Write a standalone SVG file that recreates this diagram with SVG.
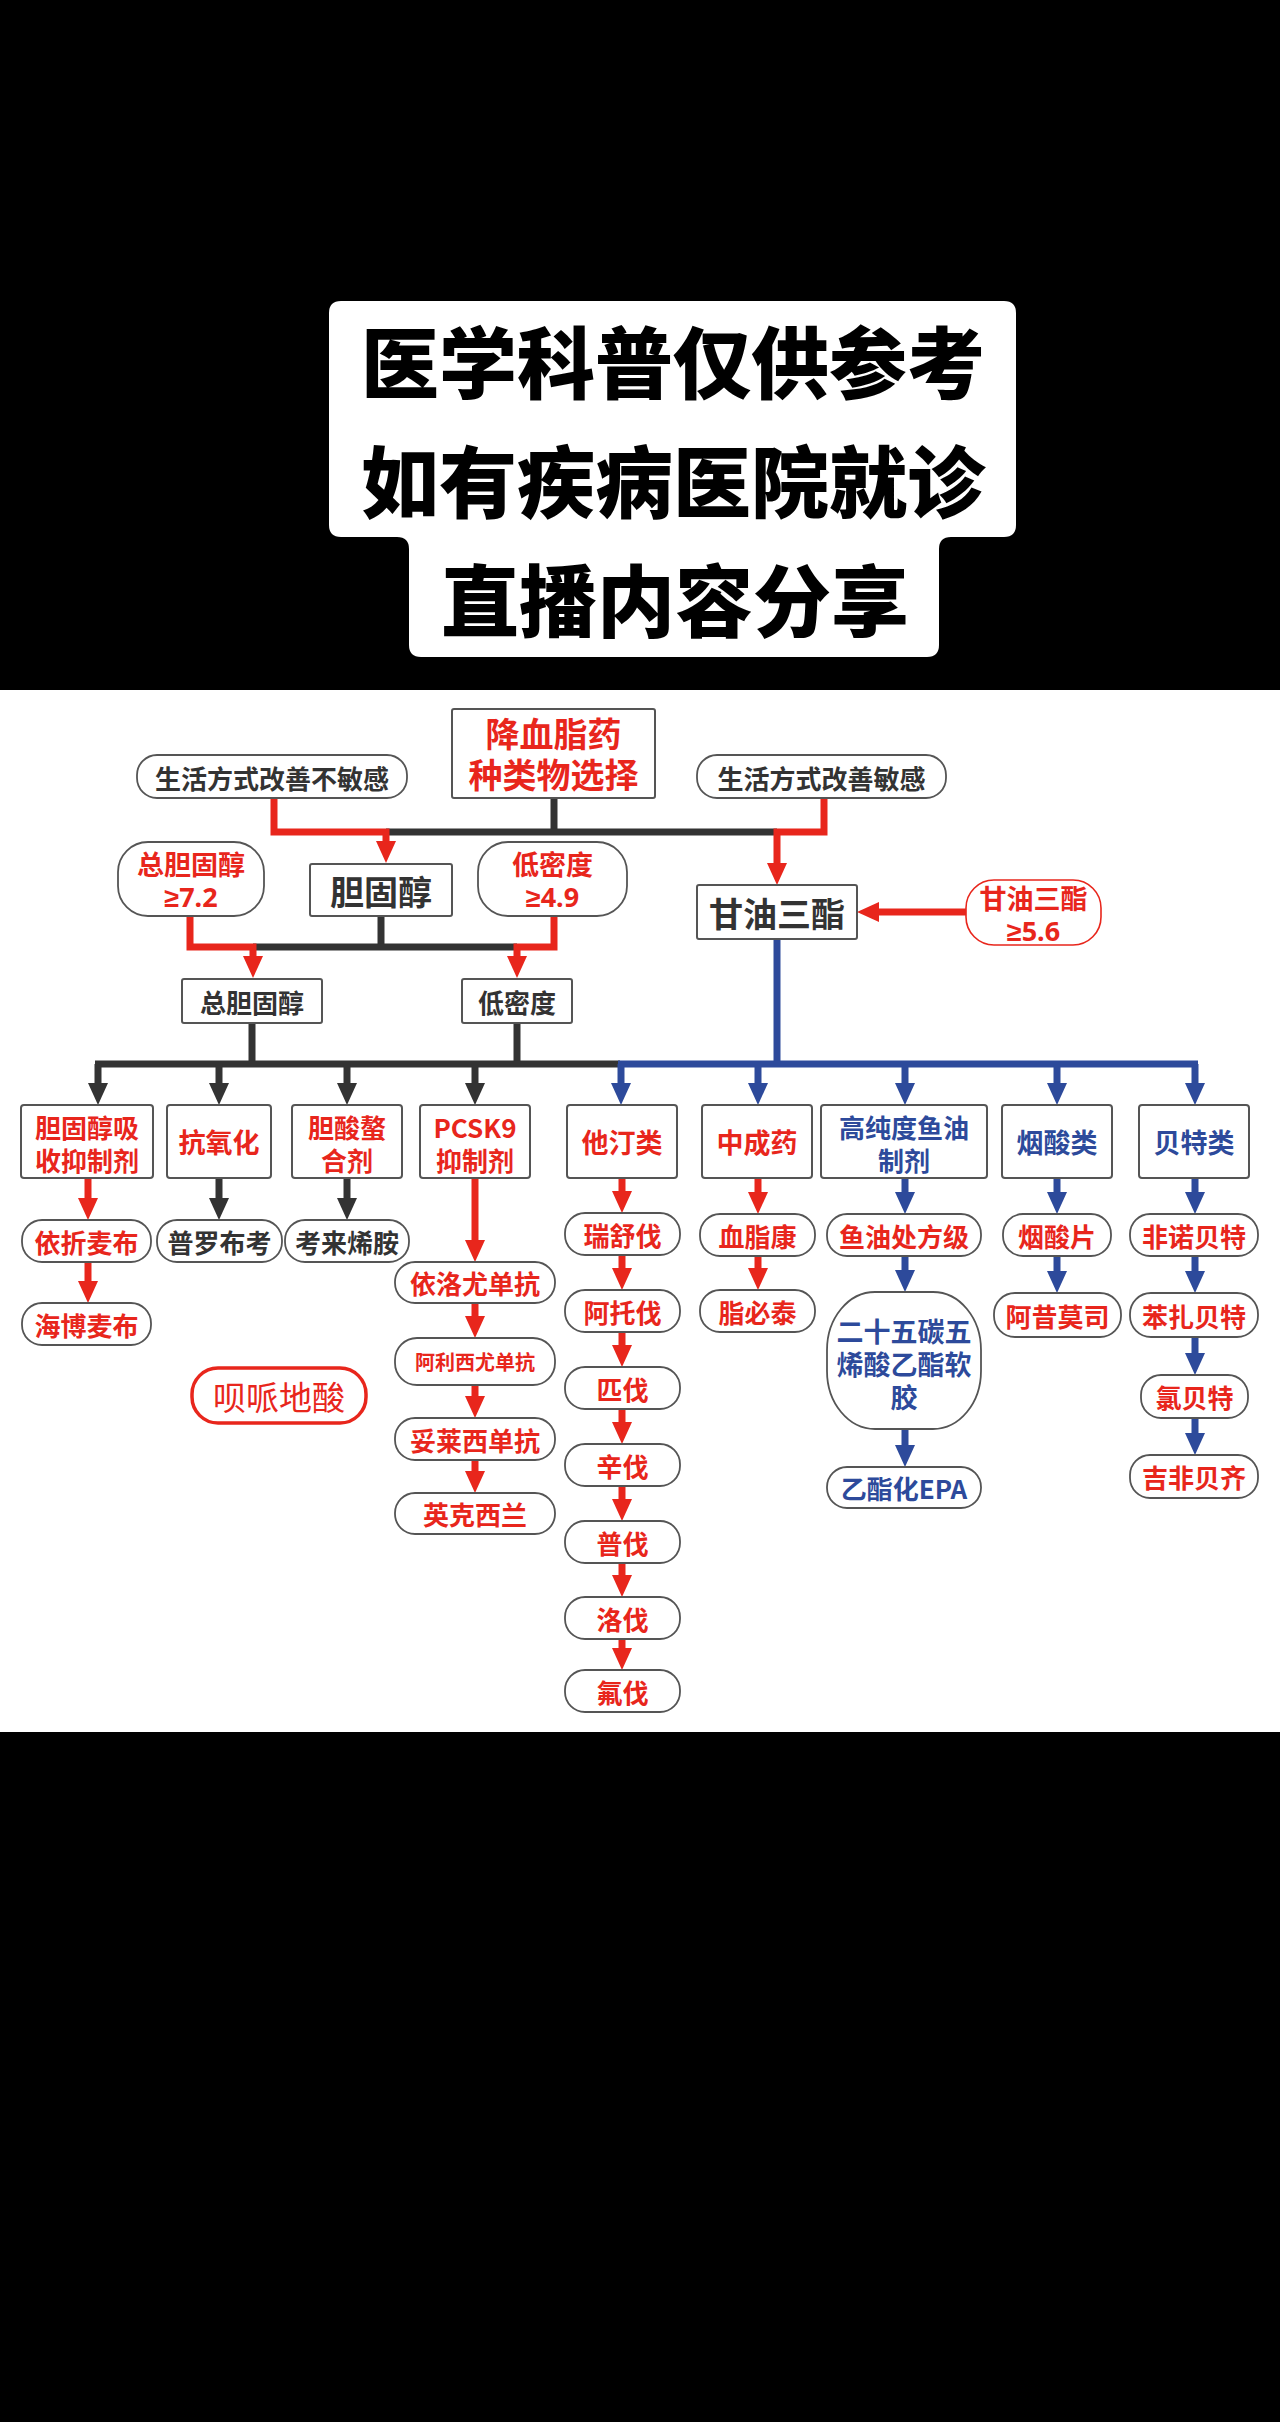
<svg xmlns="http://www.w3.org/2000/svg" width="1280" height="2422" viewBox="0 0 1280 2422">
<defs>
<style>
.t{font-family:'Noto Sans CJK SC','Noto Sans CJK JP',sans-serif;font-weight:700;text-anchor:middle;dominant-baseline:central}
.t tspan{dominant-baseline:central}
.g{font-family:'Noto Sans','Liberation Sans',sans-serif}
.r{fill:#e8261c}.k{fill:#333}.b{fill:#2d4a9b}
.box{fill:#fff;stroke:#555;stroke-width:2}
.pill{fill:#fff;stroke:#555;stroke-width:1.8}
.cr{stroke:#e8261c;stroke-width:7;fill:none}
.ck{stroke:#333;stroke-width:7;fill:none}
.cb{stroke:#2d4a9b;stroke-width:7;fill:none}
.ar{marker-end:url(#mr)}.ak{marker-end:url(#mk)}.ab{marker-end:url(#mb)}
</style>
<marker id="mr" markerUnits="userSpaceOnUse" viewBox="0 0 22 20" markerWidth="22" markerHeight="20" refX="10" refY="10" orient="auto"><path d="M0,0 L22,10 L0,20 Z" fill="#e8261c"/></marker>
<marker id="mk" markerUnits="userSpaceOnUse" viewBox="0 0 22 20" markerWidth="22" markerHeight="20" refX="10" refY="10" orient="auto"><path d="M0,0 L22,10 L0,20 Z" fill="#333"/></marker>
<marker id="mb" markerUnits="userSpaceOnUse" viewBox="0 0 22 20" markerWidth="22" markerHeight="20" refX="10" refY="10" orient="auto"><path d="M0,0 L22,10 L0,20 Z" fill="#2d4a9b"/></marker>
</defs>
<rect x="0" y="0" width="1280" height="2422" fill="#000"/>
<rect x="0" y="690" width="1280" height="1042" fill="#fff"/>
<g id="title">
<path d="M341,301 H1004 Q1016,301 1016,313 V525 Q1016,537 1004,537 H951 Q939,537 939,549 V645 Q939,657 927,657 H421 Q409,657 409,645 V549 Q409,537 397,537 H341 Q329,537 329,525 V313 Q329,301 341,301 Z" fill="#fff"/>
<text class="t" x="673" y="359" font-size="78" style="font-weight:900" fill="#000">医学科普仅供参考</text>
<text class="t" x="673" y="478" font-size="78" style="font-weight:900" fill="#000">如有疾病医院就诊</text>
<text class="t" x="675" y="597" font-size="78" style="font-weight:900" fill="#000">直播内容分享</text>
</g>
<g id="connectors">
<line class="ck" x1="554" y1="798" x2="554" y2="832"/>
<line class="ck" x1="386" y1="832" x2="777" y2="832"/>
<polyline class="cr ar" points="274,798 274,832 386,832 386,851"/>
<polyline class="cr ar" points="824,798 824,832 777,832 777,873"/>
<line class="cr ar" x1="966" y1="912" x2="869" y2="912"/>
<line class="ck" x1="381" y1="916" x2="381" y2="947"/>
<line class="ck" x1="253" y1="947" x2="517" y2="947"/>
<polyline class="cr ar" points="190,916 190,947 253,947 253,966"/>
<polyline class="cr ar" points="554,916 554,947 517,947 517,966"/>
<line class="ck" x1="252" y1="1023" x2="252" y2="1064"/>
<line class="ck" x1="517" y1="1023" x2="517" y2="1064"/>
<line class="ck" x1="95" y1="1064" x2="620" y2="1064"/>
<line class="cb" x1="618" y1="1064" x2="1198" y2="1064"/>
<line class="cb" x1="777" y1="939" x2="777" y2="1064"/>
<line class="ck ak" x1="98" y1="1064" x2="98" y2="1093"/>
<line class="ck ak" x1="219" y1="1064" x2="219" y2="1093"/>
<line class="ck ak" x1="347" y1="1064" x2="347" y2="1093"/>
<line class="ck ak" x1="475" y1="1064" x2="475" y2="1093"/>
<line class="cb ab" x1="621" y1="1064" x2="621" y2="1093"/>
<line class="cb ab" x1="758" y1="1064" x2="758" y2="1093"/>
<line class="cb ab" x1="905" y1="1064" x2="905" y2="1093"/>
<line class="cb ab" x1="1057" y1="1064" x2="1057" y2="1093"/>
<line class="cb ab" x1="1195" y1="1064" x2="1195" y2="1093"/>
<line class="cr ar" x1="88" y1="1178" x2="88" y2="1208"/>
<line class="cr ar" x1="88" y1="1262" x2="88" y2="1291"/>
<line class="ck ak" x1="219" y1="1178" x2="219" y2="1208"/>
<line class="ck ak" x1="347" y1="1178" x2="347" y2="1208"/>
<line class="cr ar" x1="475" y1="1178" x2="475" y2="1250"/>
<line class="cr ar" x1="475" y1="1303" x2="475" y2="1326"/>
<line class="cr ar" x1="475" y1="1385" x2="475" y2="1406"/>
<line class="cr ar" x1="475" y1="1460" x2="475" y2="1481"/>
<line class="cr ar" x1="622" y1="1178" x2="622" y2="1201"/>
<line class="cr ar" x1="622" y1="1255" x2="622" y2="1278"/>
<line class="cr ar" x1="622" y1="1332" x2="622" y2="1355"/>
<line class="cr ar" x1="622" y1="1409" x2="622" y2="1432"/>
<line class="cr ar" x1="622" y1="1486" x2="622" y2="1509"/>
<line class="cr ar" x1="622" y1="1563" x2="622" y2="1585"/>
<line class="cr ar" x1="622" y1="1639" x2="622" y2="1658"/>
<line class="cr ar" x1="758" y1="1178" x2="758" y2="1202"/>
<line class="cr ar" x1="758" y1="1256" x2="758" y2="1278"/>
<line class="cb ab" x1="905" y1="1178" x2="905" y2="1202"/>
<line class="cb ab" x1="905" y1="1256" x2="905" y2="1280"/>
<line class="cb ab" x1="905" y1="1429" x2="905" y2="1455"/>
<line class="cb ab" x1="1057" y1="1178" x2="1057" y2="1202"/>
<line class="cb ab" x1="1057" y1="1256" x2="1057" y2="1281"/>
<line class="cb ab" x1="1195" y1="1178" x2="1195" y2="1202"/>
<line class="cb ab" x1="1195" y1="1256" x2="1195" y2="1281"/>
<line class="cb ab" x1="1195" y1="1337" x2="1195" y2="1363"/>
<line class="cb ab" x1="1195" y1="1418" x2="1195" y2="1443"/>
</g>
<g id="n-main"><rect class="box" x="452" y="709" width="203" height="89" rx="2"/><text class="t r" font-size="34"><tspan x="553.5" y="732">降血脂药</tspan><tspan x="553.5" y="773">种类物选择</tspan></text></g>
<g id="n-insens"><rect class="pill" x="137" y="755" width="270" height="43" rx="20"/><text class="t k" x="272" y="777" font-size="26">生活方式改善不敏感</text></g>
<g id="n-sens"><rect class="pill" x="697" y="755" width="249" height="43" rx="20"/><text class="t k" x="821.5" y="777" font-size="26">生活方式改善敏感</text></g>
<g id="n-chol"><rect class="box" x="310" y="864" width="142" height="52" rx="2"/><text class="t k" x="381" y="890" font-size="34">胆固醇</text></g>
<g id="n-tc72"><rect class="pill" x="118" y="842" width="146" height="74" rx="30"/><text class="t r" font-size="27"><tspan x="191" y="863">总胆固醇</tspan><tspan class="g" x="191" y="896">≥7.2</tspan></text></g>
<g id="n-ldl49"><rect class="pill" x="478" y="842" width="149" height="74" rx="30"/><text class="t r" font-size="27"><tspan x="552.5" y="863">低密度</tspan><tspan class="g" x="552.5" y="896">≥4.9</tspan></text></g>
<g id="n-tg"><rect class="box" x="697" y="885" width="160" height="54" rx="2"/><text class="t k" x="777" y="912" font-size="34">甘油三酯</text></g>
<g id="n-tg56"><rect x="966" y="880" width="135" height="65" rx="28" fill="#fff" stroke="#e8261c" stroke-width="1.6"/><text class="t r" font-size="27"><tspan x="1033.5" y="897">甘油三酯</tspan><tspan class="g" x="1033.5" y="930">≥5.6</tspan></text></g>
<g id="n-tc"><rect class="box" x="182" y="979" width="140" height="44" rx="2"/><text class="t k" x="252" y="1001" font-size="26">总胆固醇</text></g>
<g id="n-ldl"><rect class="box" x="462" y="979" width="110" height="44" rx="2"/><text class="t k" x="517" y="1001" font-size="26">低密度</text></g>
<g id="c-abs"><rect class="box" x="21" y="1105" width="132" height="73" rx="3"/><text class="t r" font-size="26"><tspan x="87" y="1126">胆固醇吸</tspan><tspan x="87" y="1159">收抑制剂</tspan></text></g>
<g id="c-antiox"><rect class="box" x="167" y="1105" width="104" height="73" rx="3"/><text class="t r" x="219" y="1141" font-size="27">抗氧化</text></g>
<g id="c-bile"><rect class="box" x="292" y="1105" width="110" height="73" rx="3"/><text class="t r" font-size="26"><tspan x="347" y="1126">胆酸螯</tspan><tspan x="347" y="1159">合剂</tspan></text></g>
<g id="c-pcsk9"><rect class="box" x="420" y="1105" width="110" height="73" rx="3"/><text class="t r" font-size="26"><tspan x="475" y="1126">PCSK9</tspan><tspan x="475" y="1159">抑制剂</tspan></text></g>
<g id="c-statin"><rect class="box" x="567" y="1105" width="110" height="73" rx="3"/><text class="t r" x="622" y="1141" font-size="27">他汀类</text></g>
<g id="c-tcm"><rect class="box" x="702" y="1105" width="110" height="73" rx="3"/><text class="t r" x="757" y="1141" font-size="27">中成药</text></g>
<g id="c-fish"><rect class="box" x="821" y="1105" width="166" height="73" rx="3"/><text class="t b" font-size="26"><tspan x="904" y="1126">高纯度鱼油</tspan><tspan x="904" y="1159">制剂</tspan></text></g>
<g id="c-niacin"><rect class="box" x="1002" y="1105" width="110" height="73" rx="3"/><text class="t b" x="1057" y="1141" font-size="27">烟酸类</text></g>
<g id="c-fibrate"><rect class="box" x="1139" y="1105" width="110" height="73" rx="3"/><text class="t b" x="1194" y="1141" font-size="27">贝特类</text></g>
<g id="p-ezet"><rect class="pill" x="22" y="1220" width="129" height="42" rx="20"/><text class="t r" x="86.5" y="1241" font-size="26">依折麦布</text></g>
<g id="p-hybo"><rect class="pill" x="22" y="1303" width="129" height="42" rx="20"/><text class="t r" x="86.5" y="1324" font-size="26">海博麦布</text></g>
<g id="p-probu"><rect class="pill" x="157" y="1220" width="125" height="42" rx="20"/><text class="t k" x="219.5" y="1241" font-size="26">普罗布考</text></g>
<g id="p-chole"><rect class="pill" x="285" y="1220" width="124" height="42" rx="20"/><text class="t k" x="347" y="1241" font-size="26">考来烯胺</text></g>
<g id="p-evolo"><rect class="pill" x="395" y="1262" width="160" height="41" rx="20"/><text class="t r" x="475" y="1282.5" font-size="26">依洛尤单抗</text></g>
<g id="p-aliro"><rect class="pill" x="395" y="1338" width="160" height="47" rx="22"/><text class="t r" x="475" y="1361.5" font-size="20">阿利西尤单抗</text></g>
<g id="p-tafo"><rect class="pill" x="395" y="1418" width="160" height="42" rx="20"/><text class="t r" x="475" y="1439" font-size="26">妥莱西单抗</text></g>
<g id="p-incli"><rect class="pill" x="395" y="1493" width="160" height="41" rx="20"/><text class="t r" x="475" y="1513.5" font-size="26">英克西兰</text></g>
<g id="p-bemp"><rect x="192" y="1368" width="174" height="55" rx="26" fill="#fff" stroke="#e8261c" stroke-width="3.5"/><text class="t r" x="279" y="1395.5" font-size="33" style="font-weight:400">呗哌地酸</text></g>
<g id="s1"><rect class="pill" x="565" y="1213" width="115" height="42" rx="20"/><text class="t r" x="622.5" y="1234" font-size="26">瑞舒伐</text></g>
<g id="s2"><rect class="pill" x="565" y="1290" width="115" height="42" rx="20"/><text class="t r" x="622.5" y="1311" font-size="26">阿托伐</text></g>
<g id="s3"><rect class="pill" x="565" y="1367" width="115" height="42" rx="20"/><text class="t r" x="622.5" y="1388" font-size="26">匹伐</text></g>
<g id="s4"><rect class="pill" x="565" y="1444" width="115" height="42" rx="20"/><text class="t r" x="622.5" y="1465" font-size="26">辛伐</text></g>
<g id="s5"><rect class="pill" x="565" y="1521" width="115" height="42" rx="20"/><text class="t r" x="622.5" y="1542" font-size="26">普伐</text></g>
<g id="s6"><rect class="pill" x="565" y="1597" width="115" height="42" rx="20"/><text class="t r" x="622.5" y="1618" font-size="26">洛伐</text></g>
<g id="s7"><rect class="pill" x="565" y="1670" width="115" height="42" rx="20"/><text class="t r" x="622.5" y="1691" font-size="26">氟伐</text></g>
<g id="p-xzk"><rect class="pill" x="700" y="1214" width="115" height="42" rx="20"/><text class="t r" x="757.5" y="1235" font-size="26">血脂康</text></g>
<g id="p-zbt"><rect class="pill" x="700" y="1290" width="115" height="42" rx="20"/><text class="t r" x="757.5" y="1311" font-size="26">脂必泰</text></g>
<g id="p-fishrx"><rect class="pill" x="827" y="1214" width="154" height="42" rx="20"/><text class="t r" x="904" y="1235" font-size="26">鱼油处方级</text></g>
<g id="p-epa"><rect class="pill" x="827" y="1292" width="154" height="137" rx="48" ry="58"/><text class="t b" font-size="27"><tspan x="904" y="1330">二十五碳五</tspan><tspan x="904" y="1363">烯酸乙酯软</tspan><tspan x="904" y="1396">胶</tspan></text></g>
<g id="p-eepa"><rect class="pill" x="827" y="1467" width="154" height="41" rx="20"/><text class="t b" x="904" y="1487.5" font-size="26">乙酯化EPA</text></g>
<g id="p-nia"><rect class="pill" x="1003" y="1214" width="108" height="42" rx="20"/><text class="t r" x="1057" y="1235" font-size="26">烟酸片</text></g>
<g id="p-aci"><rect class="pill" x="994" y="1293" width="127" height="44" rx="21"/><text class="t r" x="1057.5" y="1315" font-size="26">阿昔莫司</text></g>
<g id="p-feno"><rect class="pill" x="1130" y="1214" width="128" height="42" rx="20"/><text class="t r" x="1194" y="1235" font-size="26">非诺贝特</text></g>
<g id="p-beza"><rect class="pill" x="1130" y="1293" width="128" height="44" rx="21"/><text class="t r" x="1194" y="1315" font-size="26">苯扎贝特</text></g>
<g id="p-clof"><rect class="pill" x="1141" y="1375" width="107" height="43" rx="20"/><text class="t r" x="1194.5" y="1396.5" font-size="26">氯贝特</text></g>
<g id="p-gemf"><rect class="pill" x="1130" y="1455" width="128" height="43" rx="20"/><text class="t r" x="1194" y="1476.5" font-size="26">吉非贝齐</text></g>
</svg>
